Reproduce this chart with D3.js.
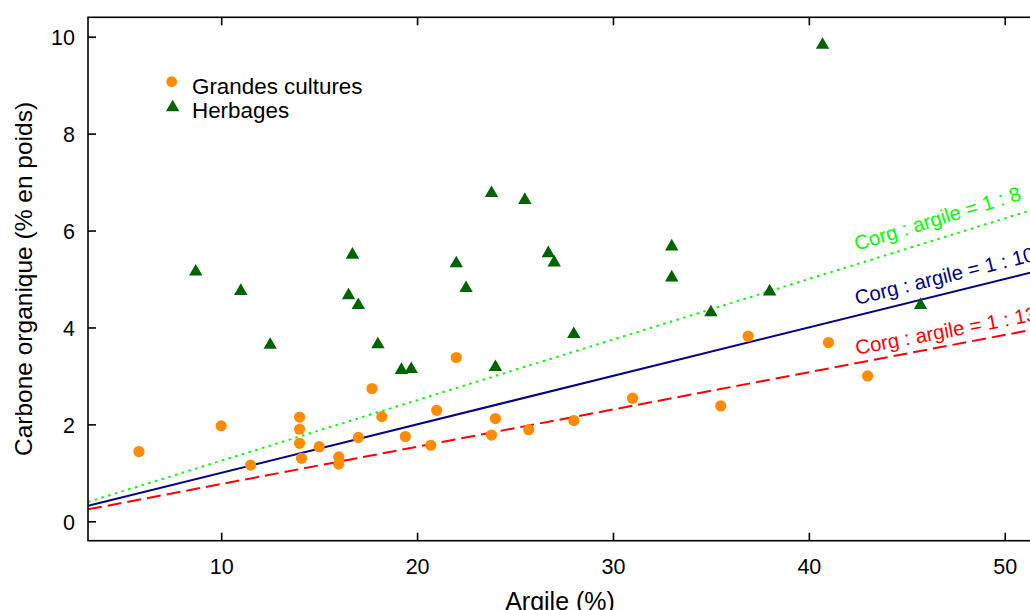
<!DOCTYPE html>
<html>
<head>
<meta charset="utf-8">
<script src="https://cdn.jsdelivr.net/npm/d3@7"></script>
<style>
  html, body { margin: 0; padding: 0; background: #ffffff; }
  svg { display: block; font-family: "Liberation Sans", Arial, sans-serif; }
</style>
</head>
<body>
<svg id="chart" width="1030" height="610"></svg>
<script>
// ---------------- data ----------------
const culturesArgile = [5.8, 10.0, 11.5, 14.0, 14.0, 14.0, 14.1, 15.0, 16.0, 16.0, 17.0, 17.7, 18.2, 19.4, 20.7, 21.0, 22.0, 23.8, 24.0, 25.7, 28.0, 31.0, 35.5, 36.9, 41.0, 43.0];
const culturesCarbone = [1.44, 1.97, 1.16, 2.15, 1.90, 1.61, 1.30, 1.54, 1.33, 1.18, 1.73, 2.74, 2.16, 1.75, 1.57, 2.29, 3.38, 1.78, 2.12, 1.89, 2.08, 2.54, 2.38, 3.82, 3.69, 3.00];

const herbagesArgile = [8.7, 11.0, 12.5, 16.5, 16.7, 17.0, 18.0, 19.2, 19.7, 22.0, 22.5, 23.8, 24.0, 25.5, 26.7, 27.0, 28.0, 33.0, 33.0, 35.0, 38.0, 40.7, 45.7];
const herbagesCarbone = [5.15, 4.75, 3.64, 4.66, 5.50, 4.46, 3.65, 3.12, 3.14, 5.32, 4.81, 6.77, 3.18, 6.63, 5.53, 5.34, 3.86, 5.67, 5.03, 4.31, 4.74, 9.83, 4.46];

const ratios = [8, 10, 13];
const ratioLabels = ["Corg : argile = 1 : 8", "Corg : argile = 1 : 10", "Corg : argile = 1 : 13"];

const xTicks = [10, 20, 30, 40, 50];
const yTicks = [0, 2, 4, 6, 8, 10];
const xTickLabels = ["10", "20", "30", "40", "50"];
const yTickLabels = ["0", "2", "4", "6", "8", "10"];

const legendLabels = ["Grandes cultures", "Herbages"];
const xTitle = "Argile (%)";
const yTitle = "Carbone organique (% en poids)";

// ---------------- styles ----------------
const lineStyles = [
  { color: "#00ff00", dash: "2.5,4.5" },
  { color: "#00008b", dash: null },
  { color: "#ff0000", dash: "14,6" }
];
const orange = "#ff8c00";
const green = "#006400";

// ---------------- layout ----------------
const svg = d3.select("#chart");
const pLeft = 88, pRight = 1040, pTop = 17.3, pBottom = 540.7;

const x = d3.scaleLinear().domain([3.2, 51.8]).range([pLeft, pRight]);
const y = d3.scaleLinear().domain([-0.4, 10.4]).range([pBottom, pTop]);

svg.append("rect").attr("width", 1030).attr("height", 610).attr("fill", "#fff");

svg.append("defs").append("clipPath").attr("id", "plotclip")
  .append("rect").attr("x", pLeft).attr("y", pTop)
  .attr("width", pRight - pLeft).attr("height", pBottom - pTop);

const plot = svg.append("g").attr("clip-path", "url(#plotclip)");

// reference lines Corg = argile / r
const xd = x.domain();
ratios.forEach((r, i) => {
  const st = lineStyles[i];
  const line = d3.line().x(d => x(d)).y(d => y(d / r));
  plot.append("path")
    .attr("d", line(xd))
    .attr("fill", "none")
    .attr("stroke", st.color)
    .attr("stroke-width", 2)
    .attr("stroke-dasharray", st.dash);
});

// line labels
const labelX = 42.45, labelShift = 2.2;
ratios.forEach((r, i) => {
  const st = lineStyles[i];
  const px = x(labelX), py = y((labelX + labelShift) / r);
  const slope = (y(0) - y(1 / r)) / (x(1) - x(0));
  const ang = -Math.atan(slope) * 180 / Math.PI;
  plot.append("text")
    .attr("transform", `translate(${px},${py}) rotate(${ang})`)
    .attr("font-size", 20.3)
    .attr("fill", st.color)
    .attr("text-anchor", "start")
    .text(ratioLabels[i]);
});

// points
const triangle = d3.symbol().type(d3.symbolTriangle).size(78);
plot.selectAll("path.herb")
  .data(herbagesArgile.map((a, i) => [a, herbagesCarbone[i]]))
  .join("path")
  .attr("class", "herb")
  .attr("d", triangle)
  .attr("transform", d => `translate(${x(d[0])},${y(d[1])})`)
  .attr("fill", green);

plot.selectAll("circle.cult")
  .data(culturesArgile.map((a, i) => [a, culturesCarbone[i]]))
  .join("circle")
  .attr("class", "cult")
  .attr("cx", d => x(d[0]))
  .attr("cy", d => y(d[1]))
  .attr("r", 5.6)
  .attr("fill", orange);

// axes
const axisG = svg.append("g");
const axStroke = "#000", axW = 1.6;

axisG.append("rect")
  .attr("x", pLeft).attr("y", pTop)
  .attr("width", pRight - pLeft).attr("height", pBottom - pTop)
  .attr("fill", "none").attr("stroke", axStroke).attr("stroke-width", axW);

const bottomAxis = d3.axisBottom(x).tickValues(xTicks).tickSize(-8).tickPadding(22)
  .tickFormat((d, i) => xTickLabels[i]);
const gb = axisG.append("g").attr("transform", `translate(0,${pBottom})`).call(bottomAxis);

const topAxis = d3.axisTop(x).tickValues(xTicks).tickSize(-8).tickFormat("");
const gt = axisG.append("g").attr("transform", `translate(0,${pTop})`).call(topAxis);

const leftAxis = d3.axisLeft(y).tickValues(yTicks).tickSize(-8).tickPadding(20)
  .tickFormat((d, i) => yTickLabels[i]);
const gl = axisG.append("g").attr("transform", `translate(${pLeft},0)`).call(leftAxis);

[gb, gt, gl].forEach(g => {
  g.select(".domain").remove();
  g.selectAll(".tick line").attr("stroke", axStroke).attr("stroke-width", axW);
  g.selectAll(".tick text").attr("fill", "#000").attr("font-size", 21.5)
    .attr("font-family", "Liberation Sans, Arial, sans-serif");
});
gb.selectAll(".tick text").attr("dy", null).attr("y", 33);
gl.selectAll(".tick text").attr("x", -13).attr("dy", "0.36em");

// axis titles
svg.append("text")
  .attr("x", (pLeft + pRight) / 2 - 4).attr("y", 610)
  .attr("text-anchor", "middle").attr("font-size", 25).attr("fill", "#000")
  .text(xTitle);

svg.append("text")
  .attr("transform", `translate(32,${(pTop + pBottom) / 2}) rotate(-90)`)
  .attr("text-anchor", "middle").attr("font-size", 24.5).attr("fill", "#000")
  .text(yTitle);

// legend
const leg = svg.append("g");
leg.append("circle").attr("cx", 171.7).attr("cy", 81.7).attr("r", 5.4).attr("fill", orange);
leg.append("path").attr("d", triangle).attr("transform", "translate(172.7,107.5)").attr("fill", green);
leg.selectAll("text.leg").data(legendLabels).join("text")
  .attr("class", "leg")
  .attr("x", 192).attr("y", (d, i) => 93.5 + i * 24)
  .attr("font-size", 22.4).attr("fill", "#000")
  .text(d => d);
</script>
</body>
</html>
